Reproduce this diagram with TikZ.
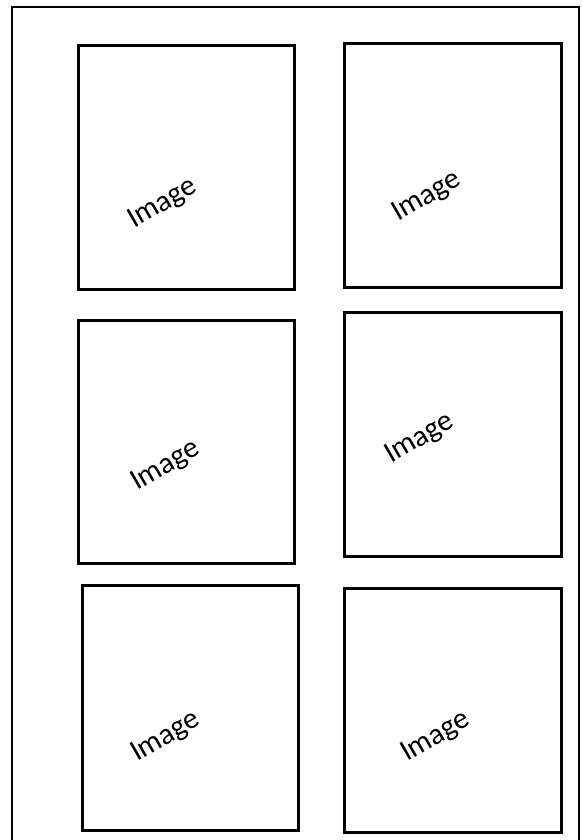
\documentclass[tikz,border=0pt]{standalone}
\usepackage{fontspec}
\setmainfont{Carlito}
\begin{document}
\begin{tikzpicture}[x=1pt,y=-1pt,
  imgbox/.style={draw=black, line width=2.6pt, inner sep=0pt, anchor=north west},
  imglabel/.style={rotate=30, inner sep=0pt, font=\fontsize{30}{33}\selectfont}]
\useasboundingbox (0,0) rectangle (582,840);
\draw[line width=2.8pt] (12,845) -- (12,7) -- (579,7) -- (579,845);
\node[imgbox, minimum width=216pt, minimum height=244pt] (b1) at (77,44) {};
\node[imgbox, minimum width=217pt, minimum height=244pt] (b2) at (343,42) {};
\node[imgbox, minimum width=216pt, minimum height=243pt] (b3) at (77,319) {};
\node[imgbox, minimum width=217pt, minimum height=244pt] (b4) at (343,311) {};
\node[imgbox, minimum width=216pt, minimum height=245pt] (b5) at (81,584) {};
\node[imgbox, minimum width=217pt, minimum height=244pt] (b6) at (343,587) {};
\node[imglabel] (t1) at (163,204) {Image};
\node[imglabel] (t2) at (427,197) {Image};
\node[imglabel] (t3) at (166,466) {Image};
\node[imglabel] (t4) at (420,439) {Image};
\node[imglabel] (t5) at (166,737) {Image};
\node[imglabel] (t6) at (436,737) {Image};
\end{tikzpicture}
\end{document}
